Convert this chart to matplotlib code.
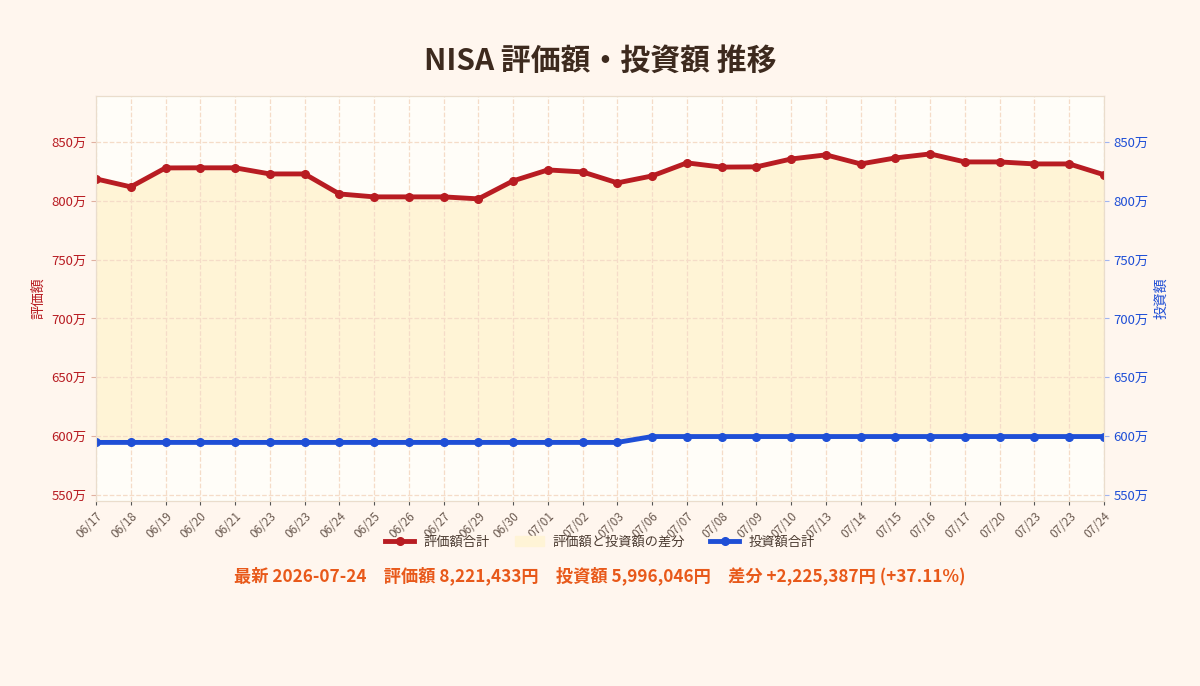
import matplotlib
matplotlib.use("Agg")
import matplotlib.pyplot as plt
from matplotlib.ticker import FuncFormatter

plt.rcParams['font.family'] = ['Noto Sans CJK JP', 'DejaVu Sans']

dates = ['06/17', '06/18', '06/19', '06/20', '06/21', '06/23', '06/23', '06/24', '06/25', '06/26',
         '06/27', '06/29', '06/30', '07/01', '07/02', '07/03', '07/06', '07/07', '07/08', '07/09',
         '07/10', '07/13', '07/14', '07/15', '07/16', '07/17', '07/20', '07/23', '07/23', '07/24']
# 万円
hyoka = [818.6, 811.8, 827.9, 828.0, 828.0, 822.8, 822.8, 805.8, 803.3, 803.3,
         803.3, 801.6, 816.9, 826.2, 824.5, 815.2, 821.1, 832.2, 828.6, 828.8,
         835.5, 839.0, 831.3, 836.4, 839.8, 833.0, 833.0, 831.3, 831.3, 822.1]
toshi = [594.6] * 16 + [599.6] * 14

bg = '#fff6ee'
red = '#b81c22'
blue = '#1f4fd6'

fig = plt.figure(figsize=(12, 6.86), dpi=100, facecolor=bg)
ax = fig.add_axes([0.08, 0.27, 0.84, 0.59])
ax.set_facecolor('#fffdf8')
x = list(range(len(dates)))

ax.fill_between(x, toshi, hyoka, color='#fff4d6', label='評価額と投資額の差分', zorder=1)
l1, = ax.plot(x, hyoka, color=red, lw=3.5, marker='o', ms=5.5, label='評価額合計', zorder=3)
l2, = ax.plot(x, toshi, color=blue, lw=3.5, marker='o', ms=5.5, label='投資額合計', zorder=3)

ax.set_xlim(0, len(dates) - 1)
ax.set_ylim(545, 889)
ax.set_xticks(x)
ax.set_xticklabels(dates, rotation=45, ha='right', rotation_mode='anchor', fontsize=8.5, color='#6b5a50')
ax.set_yticks([550, 600, 650, 700, 750, 800, 850])
fmt = FuncFormatter(lambda v, p: f'{int(v)}万')
ax.yaxis.set_major_formatter(fmt)
ax.tick_params(axis='y', colors=red, labelsize=9.5)
ax.tick_params(axis='y', color='#e0b0a0')
ax.tick_params(axis='x', color='#555555', length=3)
ax.grid(True, color='#f5dcc8', linestyle='--', lw=0.9)
for s in ax.spines.values():
    s.set_color('#eaddcc')
ax.set_ylabel('評価額', color=red, fontsize=10)

ax2 = ax.twinx()
ax2.set_ylim(545, 889)
ax2.set_yticks([550, 600, 650, 700, 750, 800, 850])
ax2.yaxis.set_major_formatter(fmt)
ax2.tick_params(axis='y', colors=blue, labelsize=9.5)
ax2.tick_params(axis='y', color='#a0b4f0')
for s in ax2.spines.values():
    s.set_color('#eaddcc')
ax2.set_ylabel('投資額', color=blue, fontsize=10)

handles, labels = ax.get_legend_handles_labels()
order = [labels.index('評価額合計'), labels.index('評価額と投資額の差分'), labels.index('投資額合計')]
fig.legend([handles[i] for i in order], [labels[i] for i in order], loc='center',
           bbox_to_anchor=(0.5, 1 - 542 / 686), ncol=3, frameon=False, fontsize=9.5,
           labelcolor='#4a3a30', handlelength=2.2, handletextpad=0.7, columnspacing=1.9)

fig.text(0.5, 1 - 61 / 686, 'NISA 評価額・投資額 推移', ha='center', va='center',
         fontsize=21.5, fontweight='bold', color='#3d2a1e')
fig.text(0.5, 1 - 576 / 686,
         '最新 2026-07-24\u3000評価額 8,221,433円\u3000投資額 5,996,046円\u3000差分 +2,225,387円 (+37.11%)',
         ha='center', va='center', fontsize=12.4, fontweight='bold', color='#e8591a')

fig.savefig('out.png', dpi=100, facecolor=bg)
